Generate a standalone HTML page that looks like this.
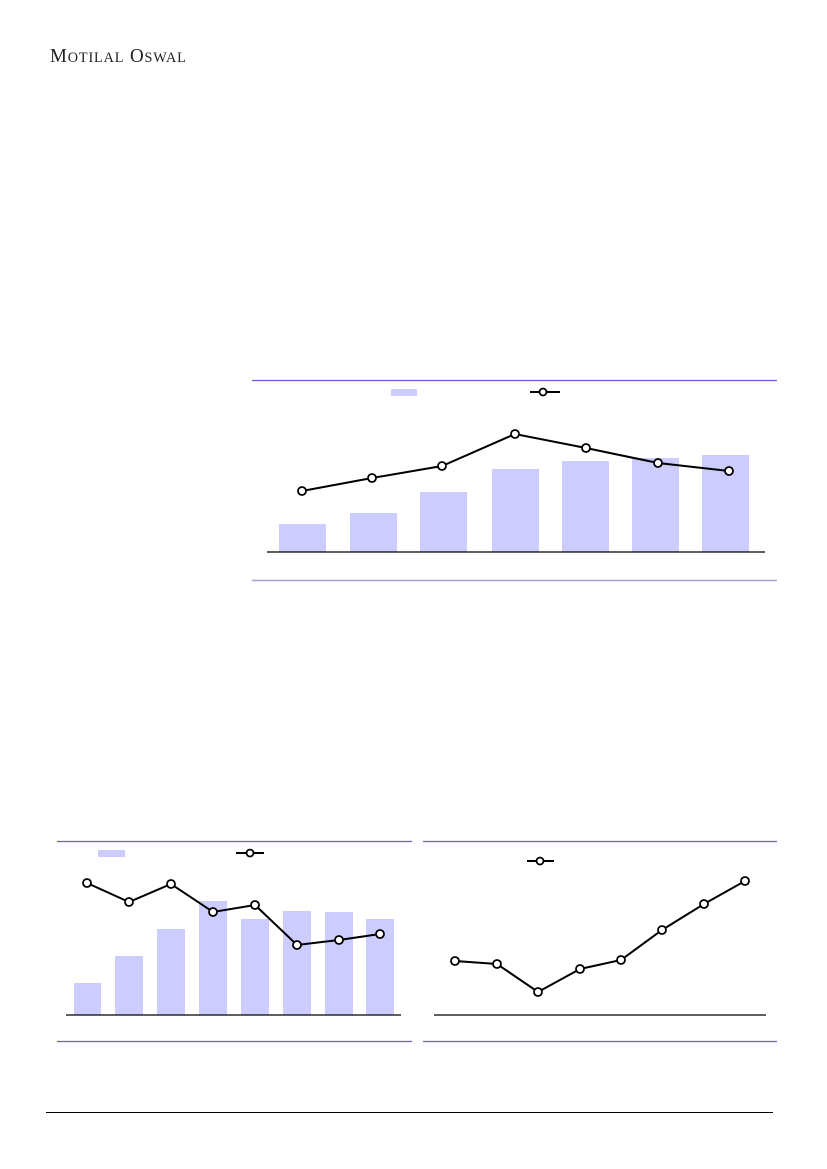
<!DOCTYPE html>
<html><head><meta charset="utf-8"><style>
html,body{margin:0;padding:0;background:#fff;}
body{width:827px;height:1169px;position:relative;overflow:hidden;}
.logo{position:absolute;left:50px;top:45px;font-family:"Liberation Serif",serif;font-size:20px;color:#222;letter-spacing:0.9px;transform:scaleX(0.95);transform-origin:left top;}
.logo small{font-size:15px;}
</style></head><body>
<div class="logo">M<small>OTILAL</small> O<small>SWAL</small></div>
<svg width="827" height="1169" style="position:absolute;left:0;top:0">
<g stroke="#6a5acd" stroke-width="1.2">
<line x1="252" y1="380.5" x2="777" y2="380.5"/><line x1="252" y1="580.5" x2="777" y2="580.5" stroke="#a99fd6" stroke-width="1.5"/>
<line x1="57" y1="841.5" x2="412" y2="841.5"/><line x1="57" y1="1041.5" x2="412" y2="1041.5"/>
<line x1="423" y1="841.5" x2="777" y2="841.5"/><line x1="423" y1="1041.5" x2="777" y2="1041.5"/>
</g>
<line x1="46" y1="1112.5" x2="773" y2="1112.5" stroke="#000" stroke-width="1"/>
<g fill="#ccccff">
<rect x="391" y="389" width="26" height="7"/>
<rect x="279" y="524" width="47" height="28"/><rect x="350" y="513" width="47" height="39"/><rect x="420" y="492" width="47" height="60"/><rect x="492" y="469" width="47" height="83"/><rect x="562" y="461" width="47" height="91"/><rect x="632" y="458" width="47" height="94"/><rect x="702" y="455" width="47" height="97"/>
<rect x="98" y="850" width="27" height="7"/>
<rect x="74" y="983" width="27" height="32"/><rect x="115" y="956" width="28" height="59"/><rect x="157" y="929" width="28" height="86"/><rect x="199" y="901" width="28" height="114"/><rect x="241" y="919" width="28" height="96"/><rect x="283" y="911" width="28" height="104"/><rect x="325" y="912" width="28" height="103"/><rect x="366" y="919" width="28" height="96"/>
</g>
<g stroke="#000" stroke-width="1.3">
<line x1="267" y1="552" x2="765" y2="552"/><line x1="66" y1="1015" x2="401" y2="1015"/><line x1="434" y1="1015" x2="766" y2="1015"/>
</g>
<g fill="none" stroke="#000" stroke-width="2">
<polyline points="302,491 372,478 442,466 515,434 586,448 658,463 729,471"/>
<polyline points="87,883 129,902 171,884 213,912 255,905 297,945 339,940 380,934"/>
<polyline points="455,961 497,964 538,992 580,969 621,960 662,930 704,904 745,881"/>
<line x1="530" y1="392" x2="560" y2="392"/><line x1="236" y1="853" x2="264" y2="853"/><line x1="527" y1="861" x2="554" y2="861"/>
</g>
<g fill="#fff" stroke="#000" stroke-width="1.8">
<circle cx="543" cy="392" r="3.5"/><circle cx="250" cy="853" r="3.5"/><circle cx="540" cy="861" r="3.5"/>
<circle cx="302" cy="491" r="4"/><circle cx="372" cy="478" r="4"/><circle cx="442" cy="466" r="4"/><circle cx="515" cy="434" r="4"/><circle cx="586" cy="448" r="4"/><circle cx="658" cy="463" r="4"/><circle cx="729" cy="471" r="4"/>
<circle cx="87" cy="883" r="4"/><circle cx="129" cy="902" r="4"/><circle cx="171" cy="884" r="4"/><circle cx="213" cy="912" r="4"/><circle cx="255" cy="905" r="4"/><circle cx="297" cy="945" r="4"/><circle cx="339" cy="940" r="4"/><circle cx="380" cy="934" r="4"/>
<circle cx="455" cy="961" r="4"/><circle cx="497" cy="964" r="4"/><circle cx="538" cy="992" r="4"/><circle cx="580" cy="969" r="4"/><circle cx="621" cy="960" r="4"/><circle cx="662" cy="930" r="4"/><circle cx="704" cy="904" r="4"/><circle cx="745" cy="881" r="4"/>
</g>
</svg>
</body></html>
